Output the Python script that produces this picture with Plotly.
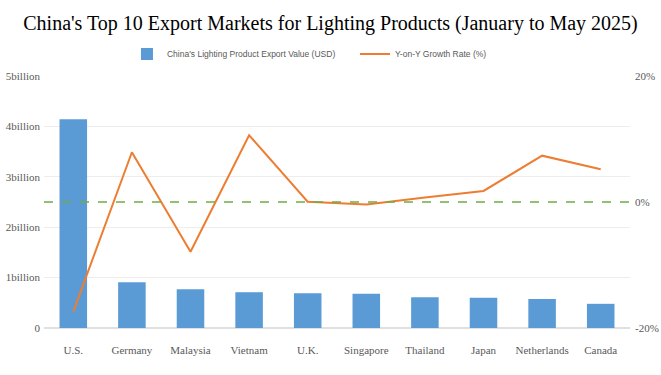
import plotly.graph_objects as go

countries = ["U.S.", "Germany", "Malaysia", "Vietnam", "U.K.", "Singapore",
             "Thailand", "Japan", "Netherlands", "Canada"]
export_value_billion = [4.14, 0.91, 0.77, 0.71, 0.69, 0.68, 0.61, 0.60, 0.575, 0.48]
growth_pct = [-17.4, 7.9, -7.9, 10.6, 0.05, -0.4, 0.7, 1.75, 7.35, 5.2]

left_tickvals = [0, 1, 2, 3, 4, 5]
left_ticktext = ["0", "1billion", "2billion", "3billion", "4billion", "5billion"]
right_tickvals = [-20, 0, 20]
right_ticktext = ["-20%", "0%", "20%"]

serif = "Liberation Serif, Times New Roman, serif"
sans = "Liberation Sans, Arial, sans-serif"

fig = go.Figure()
fig.add_trace(go.Bar(
    x=countries, y=export_value_billion,
    name="China's Lighting Product Export Value (USD)",
    marker=dict(color="#5B9BD5", line=dict(width=0)),
    yaxis="y",
))
fig.add_trace(go.Scatter(
    x=countries, y=growth_pct,
    name="Y-on-Y Growth Rate (%)",
    mode="lines",
    line=dict(color="#ED7D31", width=2),
    yaxis="y2",
))

fig.add_shape(type="line", xref="paper", yref="y2", x0=0, x1=1, y0=0, y1=0,
              line=dict(color="#70AD47", width=1.5, dash="dash"), layer="above")

fig.update_layout(
    width=661, height=375,
    margin=dict(l=44, r=31, t=76, b=47, autoexpand=False),
    paper_bgcolor="white", plot_bgcolor="white",
    title=dict(text="China's Top 10 Export Markets for Lighting Products (January to May 2025)",
               x=0.5, xanchor="center", y=0.94, yanchor="middle",
               font=dict(family=serif, size=20, color="black")),
    bargap=0.53,
    showlegend=True,
    legend=dict(orientation="h", x=0.1416, xanchor="left", y=1.087, yanchor="middle",
                font=dict(family=sans, size=8.5, color="#595959"),
                bgcolor="rgba(0,0,0,0)", traceorder="normal", entrywidth=183),
    xaxis=dict(tickfont=dict(family=serif, size=11, color="#595959"),
               showgrid=False, showline=False, ticks="", automargin=False,
               ticklabelstandoff=14),
    yaxis=dict(range=[0, 5], tickvals=left_tickvals, ticktext=left_ticktext,
               tickfont=dict(family=serif, size=11, color="#595959"),
               showgrid=True, gridcolor="#EDEDED", gridwidth=1, zeroline=True,
               zerolinecolor="#E0E0E0", ticks="", ticklabelstandoff=3, automargin=False),
    yaxis2=dict(range=[-20, 20], tickvals=right_tickvals, ticktext=right_ticktext,
                overlaying="y", side="right",
                tickfont=dict(family=serif, size=11, color="#595959"),
                showgrid=False, zeroline=False, ticks="", automargin=False,
                ticklabelstandoff=4),
)

fig.write_html("out.html", config={"displayModeBar": False},
               post_script="document.body.style.margin='0';document.body.style.padding='0';")
